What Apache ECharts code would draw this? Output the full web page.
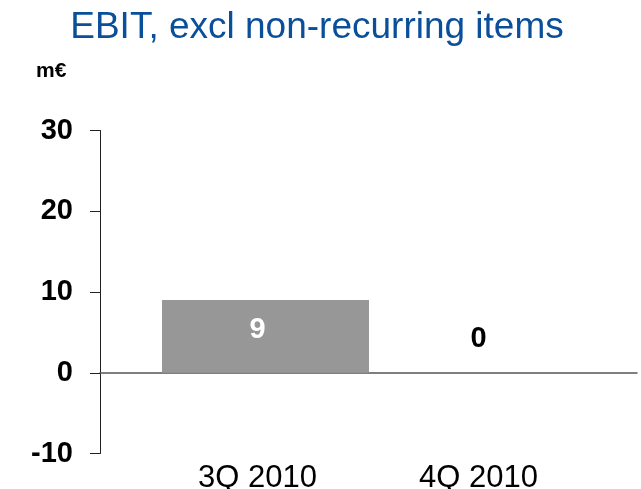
<!DOCTYPE html>
<html>
<head>
<meta charset="utf-8">
<script src="https://cdn.jsdelivr.net/npm/echarts@6/dist/echarts.min.js"></script>
<style>
html,body{margin:0;padding:0;background:#fff;}
#chart{width:641px;height:489px;}
</style>
</head>
<body>
<div id="chart"></div>
<script>
var titleText = 'EBIT, excl non-recurring items';
var unitText = 'm\u20AC';
var categories = ['3Q 2010', '4Q 2010'];
var values = [9, 0];
var yMin = -10, yMax = 30, yStep = 10;

var chart = echarts.init(document.getElementById('chart'));
var FONT = '"Liberation Sans", Arial, sans-serif';
var gridTop = 130.5, gridBottom = 35.5;

chart.setOption({
  animation: false,
  title: [
    { text: titleText, left: 312, textAlign: 'center', top: 4,
      textStyle: { fontFamily: FONT, fontSize: 37, fontWeight: 'normal', color: '#0A4F9A' } },
    { text: unitText, left: 31, top: 56,
      textStyle: { fontFamily: FONT, fontSize: 21, fontWeight: 'bold', color: '#000' } }
  ],
  grid: [
    { left: 100, right: 4, top: gridTop, bottom: gridBottom, containLabel: false, outerBoundsMode: 'none' },
    { left: 155, right: 44, top: gridTop, bottom: gridBottom, containLabel: false, outerBoundsMode: 'none' }
  ],
  xAxis: [
    { gridIndex: 0, type: 'value', min: 0, max: 1,
      axisLine: { show: true, onZero: true, lineStyle: { color: '#555', width: 1.5 } },
      axisTick: { show: false }, axisLabel: { show: false }, splitLine: { show: false } },
    { gridIndex: 1, type: 'category', data: categories,
      axisLine: { show: false }, axisTick: { show: false }, splitLine: { show: false },
      axisLabel: { fontFamily: FONT, fontSize: 31, color: '#000', margin: 9,
        padding: [0, 16, 0, 0] } }
  ],
  yAxis: [
    { gridIndex: 0, type: 'value', min: yMin, max: yMax, interval: yStep,
      axisLine: { show: true, lineStyle: { color: '#222', width: 1 } },
      axisTick: { show: true, length: 10, lineStyle: { color: '#222', width: 1 } },
      splitLine: { show: false },
      axisLabel: { fontFamily: FONT, fontSize: 29, fontWeight: 'bold', color: '#000', margin: 27 } },
    { gridIndex: 1, type: 'value', min: yMin, max: yMax, interval: yStep, show: false }
  ],
  series: [
    { type: 'bar', xAxisIndex: 1, yAxisIndex: 1, barWidth: 207,
      data: values.map(function (v) {
        return v === 0 ? { value: v, label: { position: 'top', color: '#000', offset: [-8, -14] } } : v;
      }),
      itemStyle: { color: '#979797' },
      label: { show: true, position: 'inside', offset: [-8, -6],
        fontFamily: FONT, fontSize: 29, fontWeight: 'bold',
        formatter: function (p) { return p.value; },
        color: '#fff' } }
  ]
});
</script>
</body>
</html>
